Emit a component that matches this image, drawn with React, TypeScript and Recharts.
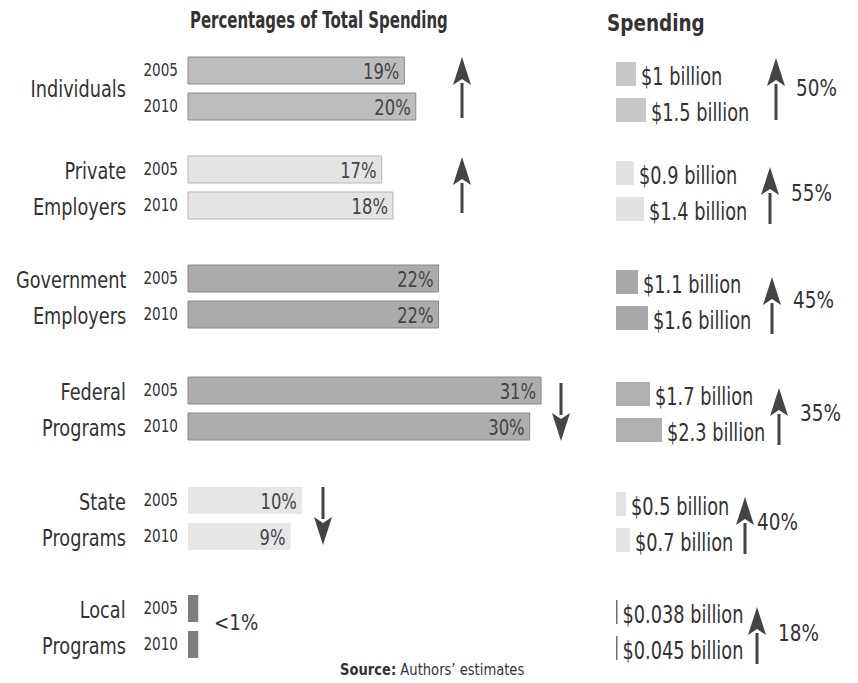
import { BarChart, Bar, XAxis, YAxis, LabelList } from 'recharts';

const groupLines = [
	['Individuals'],
	['Private', 'Employers'],
	['Government', 'Employers'],
	['Federal', 'Programs'],
	['State', 'Programs'],
	['Local', 'Programs'],
];
const years = ['2005', '2010'];
const share2005 = [19, 17, 22, 31, 10, 0.9];
const share2010 = [20, 18, 22, 30, 9, 0.9];
const shareLabels2005 = ['19%', '17%', '22%', '31%', '10%', ''];
const shareLabels2010 = ['20%', '18%', '22%', '30%', '9%', ''];
const spend2005 = [1, 0.9, 1.1, 1.7, 0.5, 0.038];
const spend2010 = [1.5, 1.4, 1.6, 2.3, 0.7, 0.045];
const spendChange = ['50%', '55%', '45%', '35%', '40%', '18%'];

// layout only
const groupTops = [52, 151, 260, 372, 482, 590];
const shareFills = ['#bdbdbd', '#e4e4e4', '#ababab', '#adadad', '#e6e6e6', '#7e7e7e'];
const shareStrokes = ['#8a8a8a', '#b5b5b5', '#888888', '#8a8a8a', 'none', 'none'];
const spendFills = ['#c8c8c8', '#e2e2e2', '#a9a9a9', '#b0b0b0', '#e4e4e4', '#6e6e6e'];
const leftArrow = [
	{ x: 462, top: 5, h: 61 },
	{ x: 462, top: 6, h: 56 },
	null,
	{ x: 561, top: 11, h: 58 },
	{ x: 323, top: 5, h: 58 },
	null,
];
const rightArrowX = [776, 770, 772, 779, 745, 757];
const rightArrowTop = [6, 16, 17, 16, 15, 17];
const changeX = [796, 791, 793, 800, 757, 778];
const changeMid = [36, 42, 40, 41, 40, 43];

const FONT = "'DejaVu Sans', sans-serif";
const INK = '#333333';
const SX = 0.8;

function Cond({ s = SX, origin = 'left', children }: { s?: number; origin?: string; children: React.ReactNode }) {
	return (
		<span style={{ display: 'inline-block', transform: `scaleX(${s})`, transformOrigin: `${origin} center`, whiteSpace: 'nowrap' }}>
			{children}
		</span>
	);
}

function squeeze(x: number, y: number, s = SX) {
	return `translate(${x} ${y}) scale(${s} 1) translate(${-x} ${-y})`;
}

function YearTick(props: any) {
	const { x, y, payload } = props;
	return (
		<text x={x} y={y} transform={squeeze(x, y)} textAnchor="end" dominantBaseline="central" fill={INK} fontSize={17} fontFamily={FONT}>
			{payload.value}
		</text>
	);
}

function ShareLabel(props: any) {
	const { x, y, width, height, value } = props;
	if (!value) return null;
	const tx = Number(x) + Number(width) - 5;
	const ty = Number(y) + Number(height) / 2 + 1;
	return (
		<text x={tx} y={ty} transform={squeeze(tx, ty, 0.78)} textAnchor="end" dominantBaseline="central" fill="#444" fontSize={21} fontFamily={FONT}>
			{value}
		</text>
	);
}

function SpendLabel(props: any) {
	const { x, y, width, height, value } = props;
	const tx = Number(x) + Number(width) + 5;
	const ty = Number(y) + Number(height) / 2 + 2;
	return (
		<text x={tx} y={ty} transform={squeeze(tx, ty, 0.74)} textAnchor="start" dominantBaseline="central" fill={INK} fontSize={24} fontFamily={FONT}>
			{`$${value} billion`}
		</text>
	);
}

function Arrow({ x, top, height, up }: { x: number; top: number; height: number; up: boolean }) {
	const head = 28;
	const w = 18;
	return (
		<svg style={{ position: 'absolute', left: x - w / 2, top }} width={w} height={height}>
			{up ? (
				<>
					<rect x={w / 2 - 1.5} y={head - 2} width={3} height={height - head + 2} fill="#444" />
					<polygon points={`${w / 2},0 ${w},${head} ${w / 2},${head - 6} 0,${head}`} fill="#444" />
				</>
			) : (
				<>
					<rect x={w / 2 - 1.5} y={0} width={3} height={height - head + 2} fill="#444" />
					<polygon points={`${w / 2},${height} ${w},${height - head} ${w / 2},${height - head + 6} 0,${height - head}`} fill="#444" />
				</>
			)}
		</svg>
	);
}

function Group({ i }: { i: number }) {
	const top = groupTops[i];
	const shareData = years.map((y, k) => ({
		year: y,
		share: k === 0 ? share2005[i] : share2010[i],
		label: k === 0 ? shareLabels2005[i] : shareLabels2010[i],
	}));
	const spendData = years.map((y, k) => ({
		year: y,
		spend: k === 0 ? spend2005[i] : spend2010[i],
	}));
	const lines = groupLines[i];
	const diff = share2010[i] - share2005[i];
	const la = leftArrow[i];

	return (
		<div style={{ position: 'absolute', left: 0, top, width: 858, height: 80 }}>
			<div
				style={{
					position: 'absolute',
					right: 858 - 126,
					top: lines.length === 1 ? 19 : 2,
					textAlign: 'right',
					fontSize: 23,
					lineHeight: '36px',
					color: INK,
				}}
			>
				{lines.map((l) => (
					<div key={l} style={{ height: 36 }}>
						<Cond s={0.77} origin="right">{l}</Cond>
					</div>
				))}
			</div>

			<div style={{ position: 'absolute', left: 130, top: 0 }}>
				<BarChart width={468} height={72} data={shareData} layout="vertical" margin={{ top: 0, right: 0, bottom: 0, left: 0 }}>
					<XAxis type="number" domain={[0, 36]} hide />
					<YAxis type="category" dataKey="year" width={58} axisLine={false} tickLine={false} tickSize={0} tickMargin={10} tick={<YearTick />} />
					<Bar dataKey="share" barSize={27} fill={shareFills[i]} stroke={shareStrokes[i]} isAnimationActive={false}>
						<LabelList dataKey="label" content={<ShareLabel />} />
					</Bar>
				</BarChart>
			</div>

			{i === 5 && (
				<div style={{ position: 'absolute', left: 214, top: 20, fontSize: 22, color: INK }}>
					<Cond s={0.83}>&lt;1%</Cond>
				</div>
			)}

			{diff !== 0 && la && <Arrow x={la.x} top={la.top} height={la.h} up={diff > 0} />}

			<div style={{ position: 'absolute', left: 616, top: 4 }}>
				<BarChart width={200} height={72} data={spendData} layout="vertical" margin={{ top: 0, right: 0, bottom: 0, left: 0 }}>
					<XAxis type="number" domain={[0, 10]} hide />
					<YAxis type="category" dataKey="year" hide />
					<Bar dataKey="spend" barSize={24} fill={spendFills[i]} minPointSize={1.5} isAnimationActive={false}>
						<LabelList dataKey="spend" content={<SpendLabel />} />
					</Bar>
				</BarChart>
			</div>

			<Arrow x={rightArrowX[i]} top={rightArrowTop[i]} height={i === 0 ? 62 : 57} up={spend2010[i] > spend2005[i]} />
			<div style={{ position: 'absolute', left: changeX[i], top: changeMid[i] - 14, fontSize: 23, lineHeight: '28px', color: INK }}>
				<Cond s={0.8}>{spendChange[i]}</Cond>
			</div>
		</div>
	);
}

export default function App() {
	return (
		<div
			style={{
				position: 'relative',
				margin: -8,
				width: 858,
				height: 683,
				background: '#ffffff',
				fontFamily: FONT,
				overflow: 'hidden',
			}}
		>
			<div style={{ position: 'absolute', left: 3, top: 0, width: 2, height: 683, background: '#d4d4d4' }} />
			<div style={{ position: 'absolute', left: 190, top: 7, fontSize: 23, fontWeight: 'bold', color: INK }}>
				<Cond s={0.65}>Percentages of Total Spending</Cond>
			</div>
			<div style={{ position: 'absolute', left: 607, top: 10, fontSize: 23, fontWeight: 'bold', color: INK }}>
				<Cond s={0.8}>Spending</Cond>
			</div>
			{groupLines.map((_, i) => (
				<Group key={i} i={i} />
			))}
			<div style={{ position: 'absolute', left: 340, top: 660, fontSize: 16, color: INK }}>
				<Cond s={0.82}>
					<b>Source:</b> Authors’ estimates
				</Cond>
			</div>
		</div>
	);
}
